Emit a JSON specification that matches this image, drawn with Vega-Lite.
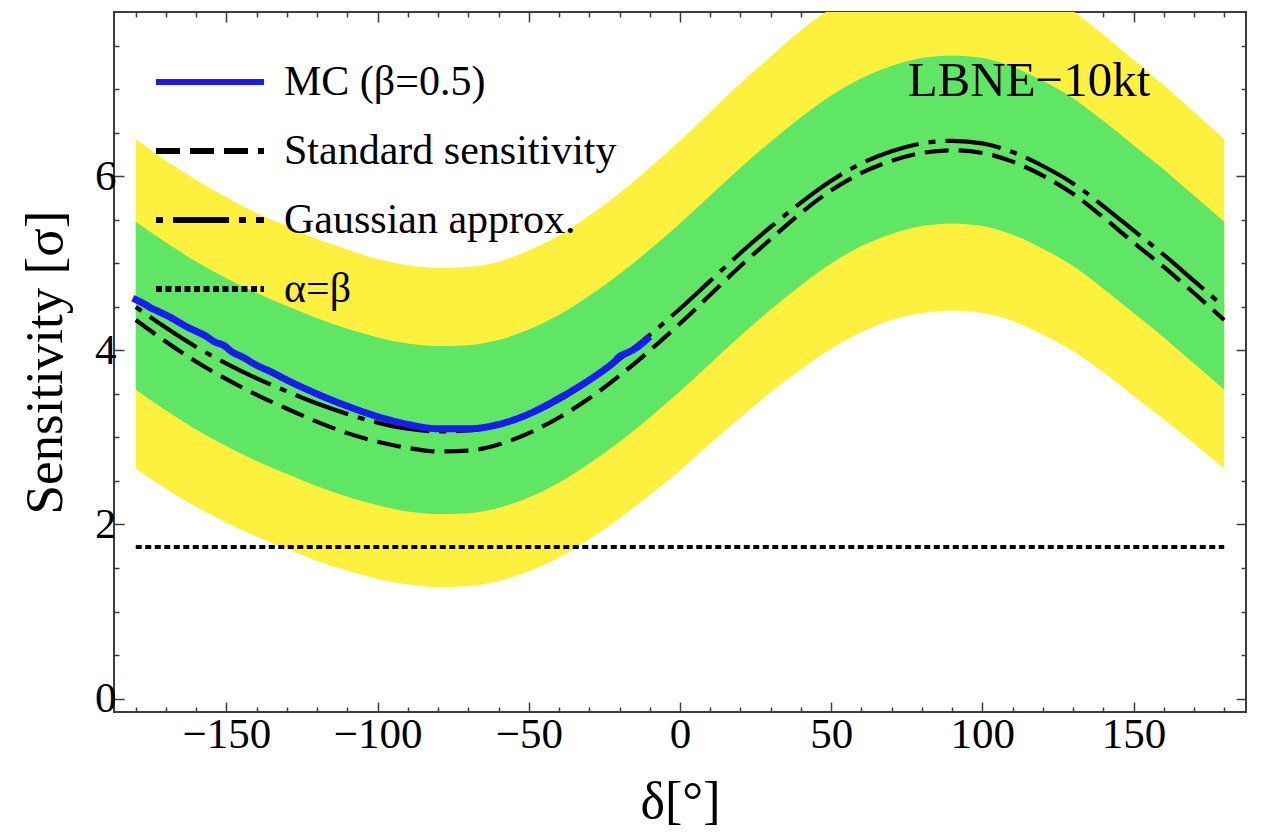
{
  "$schema": "https://vega.github.io/schema/vega-lite/v6.json",
  "width": 1132,
  "height": 700,
  "autosize": {"type": "none"},
  "padding": {"left": 114, "top": 12, "right": 15, "bottom": 121},
  "background": "white",
  "config": {
    "view": {"stroke": "#3d3d3d", "strokeWidth": 2},
    "font": "Liberation Serif",
    "axis": {
      "domain": false,
      "grid": false,
      "tickColor": "#3d3d3d",
      "tickWidth": 1.5,
      "labelFont": "Liberation Serif",
      "labelColor": "black",
      "titleFont": "Liberation Serif",
      "titleColor": "black",
      "titleFontWeight": "normal"
    },
    "legend": {
      "orient": "none",
      "legendX": 75,
      "legendY": 49,
      "title": null,
      "symbolType": "M-5,0H5",
      "symbolSize": 467,
      "symbolStrokeWidth": 6,
      "labelFont": "Liberation Serif",
      "labelFontSize": 42,
      "labelColor": "black",
      "labelLimit": 0,
      "labelOffset": 53,
      "rowPadding": 27,
      "padding": 0
    }
  },
  "datasets": {
    "bands": [
      {"d": -180, "G": 4.50, "S": 4.35, "glo": 3.55, "ghi": 5.48, "ylo": 2.64, "yhi": 6.43},
      {"d": -170, "G": 4.26, "S": 4.10, "glo": 3.31, "ghi": 5.24, "ylo": 2.41, "yhi": 6.18},
      {"d": -160, "G": 4.04, "S": 3.87, "glo": 3.09, "ghi": 5.02, "ylo": 2.20, "yhi": 5.96},
      {"d": -150, "G": 3.85, "S": 3.67, "glo": 2.90, "ghi": 4.83, "ylo": 2.02, "yhi": 5.76},
      {"d": -140, "G": 3.68, "S": 3.49, "glo": 2.73, "ghi": 4.66, "ylo": 1.86, "yhi": 5.58},
      {"d": -130, "G": 3.53, "S": 3.33, "glo": 2.58, "ghi": 4.51, "ylo": 1.72, "yhi": 5.43},
      {"d": -120, "G": 3.39, "S": 3.18, "glo": 2.44, "ghi": 4.37, "ylo": 1.58, "yhi": 5.28},
      {"d": -110, "G": 3.27, "S": 3.05, "glo": 2.32, "ghi": 4.25, "ylo": 1.47, "yhi": 5.16},
      {"d": -100, "G": 3.17, "S": 2.95, "glo": 2.22, "ghi": 4.15, "ylo": 1.37, "yhi": 5.05},
      {"d": -90, "G": 3.10, "S": 2.88, "glo": 2.15, "ghi": 4.08, "ylo": 1.31, "yhi": 4.98},
      {"d": -80, "G": 3.07, "S": 2.84, "glo": 2.12, "ghi": 4.05, "ylo": 1.28, "yhi": 4.95},
      {"d": -70, "G": 3.08, "S": 2.85, "glo": 2.13, "ghi": 4.06, "ylo": 1.29, "yhi": 4.96},
      {"d": -60, "G": 3.14, "S": 2.92, "glo": 2.19, "ghi": 4.12, "ylo": 1.35, "yhi": 5.02},
      {"d": -50, "G": 3.26, "S": 3.05, "glo": 2.31, "ghi": 4.24, "ylo": 1.46, "yhi": 5.15},
      {"d": -40, "G": 3.43, "S": 3.23, "glo": 2.48, "ghi": 4.41, "ylo": 1.62, "yhi": 5.32},
      {"d": -30, "G": 3.65, "S": 3.45, "glo": 2.70, "ghi": 4.63, "ylo": 1.83, "yhi": 5.55},
      {"d": -20, "G": 3.90, "S": 3.71, "glo": 2.95, "ghi": 4.88, "ylo": 2.07, "yhi": 5.81},
      {"d": -10, "G": 4.18, "S": 4.00, "glo": 3.23, "ghi": 5.16, "ylo": 2.34, "yhi": 6.10},
      {"d": 0, "G": 4.48, "S": 4.31, "glo": 3.53, "ghi": 5.46, "ylo": 2.62, "yhi": 6.41},
      {"d": 10, "G": 4.80, "S": 4.64, "glo": 3.85, "ghi": 5.78, "ylo": 2.93, "yhi": 6.74},
      {"d": 20, "G": 5.12, "S": 4.97, "glo": 4.17, "ghi": 6.10, "ylo": 3.23, "yhi": 7.07},
      {"d": 30, "G": 5.42, "S": 5.28, "glo": 4.47, "ghi": 6.40, "ylo": 3.52, "yhi": 7.38},
      {"d": 40, "G": 5.70, "S": 5.58, "glo": 4.75, "ghi": 6.68, "ylo": 3.78, "yhi": 7.68},
      {"d": 50, "G": 5.95, "S": 5.84, "glo": 5.00, "ghi": 6.93, "ylo": 4.02, "yhi": 7.93},
      {"d": 60, "G": 6.15, "S": 6.04, "glo": 5.20, "ghi": 7.13, "ylo": 4.21, "yhi": 8.14},
      {"d": 70, "G": 6.29, "S": 6.18, "glo": 5.34, "ghi": 7.27, "ylo": 4.35, "yhi": 8.29},
      {"d": 80, "G": 6.38, "S": 6.27, "glo": 5.43, "ghi": 7.36, "ylo": 4.43, "yhi": 8.38},
      {"d": 90, "G": 6.41, "S": 6.30, "glo": 5.46, "ghi": 7.39, "ylo": 4.46, "yhi": 8.41},
      {"d": 100, "G": 6.38, "S": 6.27, "glo": 5.43, "ghi": 7.36, "ylo": 4.43, "yhi": 8.38},
      {"d": 110, "G": 6.28, "S": 6.17, "glo": 5.33, "ghi": 7.26, "ylo": 4.34, "yhi": 8.28},
      {"d": 120, "G": 6.12, "S": 6.01, "glo": 5.17, "ghi": 7.10, "ylo": 4.18, "yhi": 8.11},
      {"d": 130, "G": 5.92, "S": 5.80, "glo": 4.97, "ghi": 6.90, "ylo": 3.99, "yhi": 7.90},
      {"d": 140, "G": 5.66, "S": 5.53, "glo": 4.71, "ghi": 6.64, "ylo": 3.75, "yhi": 7.63},
      {"d": 150, "G": 5.38, "S": 5.24, "glo": 4.43, "ghi": 6.36, "ylo": 3.48, "yhi": 7.34},
      {"d": 160, "G": 5.10, "S": 4.96, "glo": 4.15, "ghi": 6.08, "ylo": 3.21, "yhi": 7.05},
      {"d": 170, "G": 4.80, "S": 4.66, "glo": 3.85, "ghi": 5.78, "ylo": 2.93, "yhi": 6.74},
      {"d": 180, "G": 4.50, "S": 4.35, "glo": 3.55, "ghi": 5.48, "ylo": 2.64, "yhi": 6.43}
    ],
    "alphabeta": [
      {"d": -180, "v": 1.74, "s": "ab"},
      {"d": 180, "v": 1.74, "s": "ab"}
    ],
    "mc": [
      {"d": -181, "v": 4.60, "s": "MC"},
      {"d": -178, "v": 4.55, "s": "MC"},
      {"d": -175, "v": 4.49, "s": "MC"},
      {"d": -172, "v": 4.44, "s": "MC"},
      {"d": -169, "v": 4.39, "s": "MC"},
      {"d": -166, "v": 4.33, "s": "MC"},
      {"d": -163, "v": 4.27, "s": "MC"},
      {"d": -160, "v": 4.22, "s": "MC"},
      {"d": -157, "v": 4.17, "s": "MC"},
      {"d": -154, "v": 4.10, "s": "MC"},
      {"d": -151, "v": 4.06, "s": "MC"},
      {"d": -148, "v": 3.98, "s": "MC"},
      {"d": -145, "v": 3.93, "s": "MC"},
      {"d": -140, "v": 3.83, "s": "MC"},
      {"d": -135, "v": 3.75, "s": "MC"},
      {"d": -130, "v": 3.66, "s": "MC"},
      {"d": -120, "v": 3.50, "s": "MC"},
      {"d": -110, "v": 3.36, "s": "MC"},
      {"d": -100, "v": 3.24, "s": "MC"},
      {"d": -90, "v": 3.15, "s": "MC"},
      {"d": -80, "v": 3.10, "s": "MC"},
      {"d": -70, "v": 3.10, "s": "MC"},
      {"d": -60, "v": 3.15, "s": "MC"},
      {"d": -50, "v": 3.27, "s": "MC"},
      {"d": -40, "v": 3.45, "s": "MC"},
      {"d": -30, "v": 3.66, "s": "MC"},
      {"d": -25, "v": 3.78, "s": "MC"},
      {"d": -22, "v": 3.86, "s": "MC"},
      {"d": -20, "v": 3.93, "s": "MC"},
      {"d": -17, "v": 3.98, "s": "MC"},
      {"d": -14, "v": 4.04, "s": "MC"},
      {"d": -10, "v": 4.16, "s": "MC"}
    ],
    "ann": [
      {"t": "LBNE−10kt", "d": 75.3, "v": 6.92}
    ]
  },
  "layer": [
    {
      "data": {"name": "bands"},
      "mark": {"type": "area", "color": "#fef13e", "clip": true, "interpolate": "monotone"},
      "encoding": {
        "x": {
          "field": "d", "type": "quantitative",
          "scale": {"domain": [-187.2, 187.2], "nice": false, "zero": false},
          "axis": {
            "orient": "bottom", "values": [-150, -100, -50, 0, 50, 100, 150], "format": "d",
            "tickSize": -10, "labelFontSize": 43, "labelPadding": 11, "labelFlush": false, "labelOverlap": false,
            "title": "δ[°]", "titleFontSize": 52, "titlePadding": 20
          }
        },
        "y": {
          "field": "ylo", "type": "quantitative",
          "scale": {"domain": [-0.155, 7.89], "nice": false, "zero": false},
          "axis": {
            "orient": "left", "values": [0, 2, 4, 6], "format": "d",
            "tickSize": -10, "labelFontSize": 43, "labelPadding": 8, "labelFlush": false, "labelOverlap": false,
            "title": "Sensitivity [σ]", "titleFontSize": 53, "titlePadding": 22
          }
        },
        "y2": {"field": "yhi"}
      }
    },
    {
      "data": {"name": "bands"},
      "mark": {"type": "area", "color": "#5fe665", "clip": true, "interpolate": "monotone"},
      "encoding": {
        "x": {
          "field": "d", "type": "quantitative",
          "scale": {"domain": [-187.2, 187.2], "nice": false, "zero": false},
          "axis": {
            "orient": "bottom",
            "values": [-180, -170, -160, -140, -130, -120, -110, -90, -80, -70, -60, -40, -30, -20, -10, 10, 20, 30, 40, 60, 70, 80, 90, 110, 120, 130, 140, 160, 170, 180],
            "tickSize": -5, "labels": false, "title": null
          }
        },
        "y": {
          "field": "glo", "type": "quantitative",
          "scale": {"domain": [-0.155, 7.89], "nice": false, "zero": false},
          "axis": {
            "orient": "left", "values": [0.5, 1, 1.5, 2.5, 3, 3.5, 4.5, 5, 5.5, 6.5, 7, 7.5],
            "tickSize": -5, "labels": false, "title": null
          }
        },
        "y2": {"field": "ghi"}
      }
    },
    {
      "data": {"name": "alphabeta"},
      "mark": {"type": "line", "strokeWidth": 4, "clip": true},
      "encoding": {
        "x": {
          "field": "d", "type": "quantitative",
          "scale": {"domain": [-187.2, 187.2], "nice": false, "zero": false},
          "axis": {"orient": "top", "values": [-150, -100, -50, 0, 50, 100, 150], "tickSize": -10, "labels": false, "title": null}
        },
        "y": {
          "field": "v", "type": "quantitative",
          "scale": {"domain": [-0.155, 7.89], "nice": false, "zero": false},
          "axis": {"orient": "right", "values": [0, 2, 4, 6], "tickSize": -10, "labels": false, "title": null}
        },
        "color": {
          "field": "s", "type": "nominal",
          "scale": {"domain": ["MC", "S", "G", "ab"], "range": ["#1a1af5", "black", "black", "black"]},
          "legend": {"labelExpr": "datum.label == 'MC' ? 'MC (β=0.5)' : datum.label == 'S' ? 'Standard sensitivity' : datum.label == 'G' ? 'Gaussian approx.' : 'α=β'"}
        },
        "strokeDash": {
          "field": "s", "type": "nominal",
          "scale": {"domain": ["MC", "S", "G", "ab"], "range": [[1, 0], [24, 10], [7, 10, 56, 10], [6, 3.5]]},
          "legend": {"labelExpr": "datum.label == 'MC' ? 'MC (β=0.5)' : datum.label == 'S' ? 'Standard sensitivity' : datum.label == 'G' ? 'Gaussian approx.' : 'α=β'"}
        }
      }
    },
    {
      "data": {"name": "bands"},
      "transform": [{"fold": ["S", "G"], "as": ["s", "v"]}],
      "mark": {"type": "line", "strokeWidth": 4.2, "clip": true, "interpolate": "monotone"},
      "encoding": {
        "x": {
          "field": "d", "type": "quantitative",
          "scale": {"domain": [-187.2, 187.2], "nice": false, "zero": false},
          "axis": {
            "orient": "top",
            "values": [-180, -170, -160, -140, -130, -120, -110, -90, -80, -70, -60, -40, -30, -20, -10, 10, 20, 30, 40, 60, 70, 80, 90, 110, 120, 130, 140, 160, 170, 180],
            "tickSize": -5, "labels": false, "title": null
          }
        },
        "y": {
          "field": "v", "type": "quantitative",
          "scale": {"domain": [-0.155, 7.89], "nice": false, "zero": false},
          "axis": {
            "orient": "right", "values": [0.5, 1, 1.5, 2.5, 3, 3.5, 4.5, 5, 5.5, 6.5, 7, 7.5],
            "tickSize": -5, "labels": false, "title": null
          }
        },
        "color": {
          "field": "s", "type": "nominal",
          "scale": {"domain": ["MC", "S", "G", "ab"], "range": ["#1a1af5", "black", "black", "black"]},
          "legend": {"labelExpr": "datum.label == 'MC' ? 'MC (β=0.5)' : datum.label == 'S' ? 'Standard sensitivity' : datum.label == 'G' ? 'Gaussian approx.' : 'α=β'"}
        },
        "strokeDash": {
          "field": "s", "type": "nominal",
          "scale": {"domain": ["MC", "S", "G", "ab"], "range": [[1, 0], [24, 10], [7, 10, 56, 10], [6, 3.5]]},
          "legend": {"labelExpr": "datum.label == 'MC' ? 'MC (β=0.5)' : datum.label == 'S' ? 'Standard sensitivity' : datum.label == 'G' ? 'Gaussian approx.' : 'α=β'"}
        }
      }
    },
    {
      "data": {"name": "mc"},
      "mark": {"type": "line", "strokeWidth": 7, "clip": true, "interpolate": "monotone"},
      "encoding": {
        "x": {"field": "d", "type": "quantitative", "scale": {"domain": [-187.2, 187.2], "nice": false, "zero": false}, "axis": null},
        "y": {"field": "v", "type": "quantitative", "scale": {"domain": [-0.155, 7.89], "nice": false, "zero": false}, "axis": null},
        "color": {
          "field": "s", "type": "nominal",
          "scale": {"domain": ["MC", "S", "G", "ab"], "range": ["#1a1af5", "black", "black", "black"]},
          "legend": {"labelExpr": "datum.label == 'MC' ? 'MC (β=0.5)' : datum.label == 'S' ? 'Standard sensitivity' : datum.label == 'G' ? 'Gaussian approx.' : 'α=β'"}
        },
        "strokeDash": {
          "field": "s", "type": "nominal",
          "scale": {"domain": ["MC", "S", "G", "ab"], "range": [[1, 0], [24, 10], [7, 10, 56, 10], [6, 3.5]]},
          "legend": {"labelExpr": "datum.label == 'MC' ? 'MC (β=0.5)' : datum.label == 'S' ? 'Standard sensitivity' : datum.label == 'G' ? 'Gaussian approx.' : 'α=β'"}
        }
      }
    },
    {
      "data": {"name": "ann"},
      "mark": {"type": "text", "align": "left", "baseline": "alphabetic", "font": "Liberation Serif", "fontSize": 49, "color": "black"},
      "encoding": {
        "x": {"field": "d", "type": "quantitative", "scale": {"domain": [-187.2, 187.2], "nice": false, "zero": false}, "axis": null},
        "y": {"field": "v", "type": "quantitative", "scale": {"domain": [-0.155, 7.89], "nice": false, "zero": false}, "axis": null},
        "text": {"field": "t"}
      }
    }
  ],
  "resolve": {"axis": {"x": "independent", "y": "independent"}}
}
